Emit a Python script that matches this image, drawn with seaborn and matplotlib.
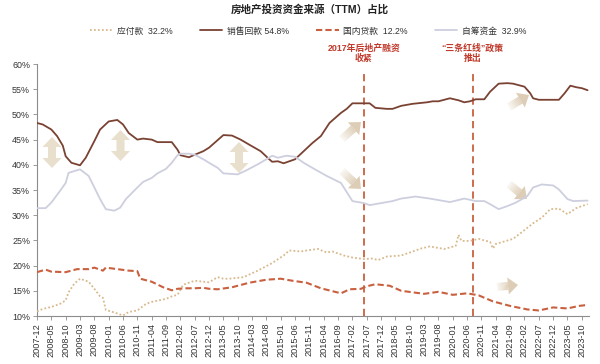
import matplotlib
matplotlib.use("Agg")
import matplotlib.pyplot as plt
from matplotlib.patches import Polygon
import numpy as np
import pandas as pd
import seaborn as sns

# ---------------- data ----------------
sales_dates = ["2007-12","2008-02","2008-05","2008-07","2008-09","2008-10","2008-12","2009-03","2009-05","2009-08",
               "2009-10","2010-01","2010-04","2010-06","2010-08","2010-11","2011-01","2011-04","2011-06","2011-09",
               "2011-11","2012-01","2012-02","2012-05","2012-07","2012-10","2012-12","2013-02","2013-05","2013-08",
               "2013-11","2014-02","2014-06","2014-09","2014-10","2014-12","2015-02","2015-06","2015-09","2015-12",
               "2016-03","2016-06","2016-10","2016-12","2017-02","2017-05","2017-08","2017-10","2018-02","2018-04",
               "2018-07","2018-11","2019-04","2019-06","2019-08","2019-12","2020-03","2020-05","2020-07","2020-09",
               "2020-12","2021-02","2021-05","2021-08","2021-10","2022-02","2022-04","2022-05","2022-07","2022-10",
               "2023-02","2023-04","2023-06","2023-08","2023-10","2023-12"]
sales_vals = [48.3,48.0,47.0,45.7,43.8,41.7,40.4,39.9,41.4,44.7,
              47.0,48.6,48.9,48.0,46.3,45.0,45.2,45.0,44.5,44.5,
              44.5,43.0,41.9,41.5,42.0,42.7,43.4,44.4,45.9,45.8,
              45.0,44.0,42.7,41.1,40.6,40.7,40.3,41.1,42.7,44.3,
              45.7,48.3,50.3,51.1,52.2,52.2,52.2,51.3,51.1,51.1,
              51.7,52.1,52.4,52.6,52.6,53.2,52.8,52.4,52.6,53.0,
              53.0,54.5,56.1,56.2,56.1,55.5,54.2,53.2,52.9,52.9,
              52.9,54.2,55.7,55.4,55.2,54.8]

self_dates = ["2007-12","2008-03","2008-05","2008-08","2008-10","2008-11","2009-03","2009-06","2009-08","2009-10",
              "2009-12","2010-03","2010-05","2010-07","2010-11","2011-01","2011-04","2011-06","2011-09","2011-11",
              "2012-01","2012-02","2012-05","2012-07","2012-10","2012-12","2013-03","2013-05","2013-10","2014-01",
              "2014-05","2014-08","2014-10","2014-12","2015-03","2015-06","2015-09","2015-12","2016-05","2016-10",
              "2016-12","2017-02","2017-06","2017-08","2018-01","2018-04","2018-07","2018-12","2019-05","2019-12",
              "2020-05","2020-09","2020-12","2021-02","2021-05","2021-08","2021-11","2022-03","2022-05","2022-08",
              "2022-12","2023-02","2023-05","2023-07","2023-12"]
self_vals = [31.4,31.4,32.5,34.8,36.4,38.4,39.1,37.8,35.5,33.2,
             31.2,30.9,31.5,33.2,35.5,36.6,37.4,38.3,39.2,40.4,
             41.9,42.2,42.2,42.0,41.1,40.4,39.4,38.3,38.1,38.9,
             40.1,41.1,41.8,41.4,41.8,41.6,40.4,39.4,37.8,36.4,
             34.6,32.8,32.4,32.0,32.5,32.8,33.3,33.7,33.3,32.6,
             33.3,32.8,32.8,32.2,31.2,31.8,32.5,33.8,35.5,36.1,
             35.9,35.1,33.2,32.8,32.9]

loan_dates = ["2007-12","2008-03","2008-05","2008-10","2009-02","2009-06","2009-08","2009-11","2009-12","2010-04",
              "2010-08","2010-11","2010-12","2011-04","2011-08","2011-11","2012-01","2012-04","2012-07","2012-10",
              "2012-12","2013-03","2013-08","2014-02","2014-08","2015-01","2015-05","2015-10","2016-03","2016-10",
              "2017-01","2017-05","2017-07","2017-10","2018-03","2018-07","2019-03","2019-08","2020-01","2020-06",
              "2020-10","2021-03","2021-09","2022-03","2022-07","2022-12","2023-05","2023-09","2023-12"]
loan_vals = [18.7,19.2,18.8,18.7,19.3,19.3,19.6,19.0,19.6,19.3,
             19.0,18.9,17.4,16.8,15.7,15.1,15.4,15.5,15.5,15.6,
             15.4,15.3,15.7,16.6,17.2,17.4,17.0,16.6,15.5,14.5,
             15.3,15.4,15.9,16.3,16.0,15.0,14.4,14.8,14.2,14.5,
             14.1,12.9,12.0,11.3,11.1,11.7,11.5,12.0,12.2]

pay_dates = ["2007-12","2008-02","2008-05","2008-08","2008-10","2008-11","2009-01","2009-03","2009-06","2009-08",
             "2009-10","2009-11","2009-12","2010-03","2010-06","2010-08","2010-11","2011-02","2011-04","2011-09",
             "2011-11","2012-01","2012-03","2012-07","2012-10","2012-12","2013-03","2013-05","2013-07","2013-12",
             "2014-05","2014-10","2015-02","2015-04","2015-08","2015-10","2016-02","2016-05","2016-07","2016-11",
             "2017-02","2017-06","2017-09","2017-11","2018-02","2018-07","2018-10","2019-02","2019-05","2019-10",
             "2020-02","2020-03","2020-04","2020-07","2020-10","2021-02","2021-03","2021-04","2021-10","2022-01",
             "2022-05","2022-08","2022-11","2023-02","2023-05","2023-08","2023-12"]
pay_vals = [10.9,11.4,11.8,12.4,13.1,14.7,16.4,17.4,16.8,15.4,
            13.9,13.6,11.2,10.7,10.1,10.8,11.1,12.4,12.8,13.4,
            13.9,14.2,16.2,17.0,16.8,16.7,17.7,17.4,17.4,17.7,
            19.0,20.5,22.0,23.0,22.8,23.0,23.3,22.6,22.8,22.0,
            21.6,21.3,21.4,21.1,21.8,22.0,22.6,23.4,23.8,23.3,
            23.9,26.1,24.9,24.9,25.3,24.7,23.4,24.3,25.3,26.6,
            28.4,29.5,31.2,31.3,30.2,31.4,32.2]

series_names = ["应付款  32.2%", "销售回款 54.8%", "国内贷款  12.2%", "自筹资金  32.9%"]
tick_labels = ["2007-12","2008-05","2008-10","2009-03","2009-08","2010-01","2010-06","2010-11","2011-04","2011-09",
               "2012-02","2012-07","2012-12","2013-05","2013-10","2014-03","2014-08","2015-01","2015-06","2015-11",
               "2016-04","2016-09","2017-02","2017-07","2017-12","2018-05","2018-10","2019-03","2019-08","2020-01",
               "2020-06","2020-11","2021-04","2021-09","2022-02","2022-07","2022-12","2023-05","2023-10"]
event_dates = ["2017-06", "2020-08"]
event_texts = ["2017年后地产融资\n收紧", "\u201c三条红线\u201d政策\n推出"]
title = "房地产投资资金来源（TTM）占比"

# ---------------- helpers ----------------
def month_index(dates):
    p = pd.PeriodIndex(dates, freq="M")
    return np.array((p.year - 2007) * 12 + p.month - 12, dtype=float)

sns.set_style("ticks")
plt.rcParams["font.family"] = ["Liberation Sans", "Noto Sans CJK SC", "DejaVu Sans"]

W, H = 600, 364
fig = plt.figure(figsize=(6, 3.64), dpi=100)
ax = fig.add_axes([37 / W, 1 - 316 / H, (589 - 37) / W, (316 - 64) / H])

colors = {"pay": "#d8b98c", "sales": "#7a4233", "loan": "#c9603f", "self": "#cdcfdf"}

# decorative arrows (pixel geometry -> figure coords)
def px(pts):
    return [(x / W, 1 - y / H) for x, y in pts]

def double_arrow(cx, y0, y1, hw=19, bw=8, hl=10, color="#e9dfcd"):
    pts = [(cx, y0), (cx + hw / 2, y0 + hl), (cx + bw / 2, y0 + hl), (cx + bw / 2, y1 - hl),
           (cx + hw / 2, y1 - hl), (cx, y1), (cx - hw / 2, y1 - hl), (cx - bw / 2, y1 - hl),
           (cx - bw / 2, y0 + hl), (cx - hw / 2, y0 + hl)]
    ax.add_patch(Polygon(px(pts), closed=True, transform=fig.transFigure, facecolor=color,
                         edgecolor="none", zorder=1, clip_on=False))

def grad_arrow(x0, y0, x1, y1, hw=17, bw=8, hl=10, color="#dccbb2", n=10):
    d = np.array([x1 - x0, y1 - y0], float)
    L = np.hypot(*d)
    u = d / L
    nrm = np.array([-u[1], u[0]])
    p0 = np.array([x0, y0], float)
    body = L - hl
    for i in range(n):
        a = p0 + u * body * i / n
        b = p0 + u * body * (i + 1) / n
        pts = [a + nrm * bw / 2, b + nrm * bw / 2, b - nrm * bw / 2, a - nrm * bw / 2]
        ax.add_patch(Polygon(px(pts), closed=True, transform=fig.transFigure, facecolor=color,
                             alpha=0.08 + 0.8 * (i + 1) / n, edgecolor="none", zorder=1, clip_on=False))
    base = p0 + u * body
    tip = np.array([x1, y1], float)
    pts = [base + nrm * hw / 2, tip, base - nrm * hw / 2]
    ax.add_patch(Polygon(px(pts), closed=True, transform=fig.transFigure, facecolor=color,
                         alpha=0.95, edgecolor="none", zorder=1, clip_on=False))

double_arrow(52, 137, 168)
double_arrow(120.5, 130, 161)
double_arrow(239, 142, 173)
grad_arrow(342, 139, 361, 122)
grad_arrow(342, 171, 361, 189)
grad_arrow(509, 107, 529, 95)
grad_arrow(509, 184, 527, 199)
grad_arrow(497, 287, 518, 285)

# ---------------- lines ----------------
frames = [
    ("pay", pay_dates, pay_vals, dict(linestyle=(0, (1, 1.2)), linewidth=1.3)),
    ("sales", sales_dates, sales_vals, dict(linestyle="-", linewidth=1.3)),
    ("loan", loan_dates, loan_vals, dict(linestyle=(0, (3, 1.5)), linewidth=1.5)),
    ("self", self_dates, self_vals, dict(linestyle="-", linewidth=1.3)),
]
handles = []
for key, dts, vals, kw in frames:
    df = pd.DataFrame({"m": month_index(dts), "v": vals})
    n_before = len(ax.lines)
    sns.lineplot(data=df, x="m", y="v", ax=ax, color=colors[key], legend=False, zorder=3, **kw)
    handles.append(ax.lines[n_before])

# event lines
for d, t in zip(event_dates, event_texts):
    m = month_index([d])[0]
    ax.axvline(m, ymin=0, ymax=(316 - 73) / 252, color="#c9603f", linestyle=(0, (4, 2.5)),
               linewidth=1.3, zorder=2)
    ax.text(m, 62.1, t, ha="center", va="center", fontsize=6.4, fontweight="bold",
            color="#c0392b", linespacing=1.25, clip_on=False)

# ---------------- axes ----------------
ax.set_xlim(0, 192.5)
ax.set_ylim(10, 60)
ax.set_yticks(np.arange(10, 61, 5))
ax.set_yticklabels([f"{v}%" for v in range(10, 61, 5)])
ax.set_xticks(month_index(tick_labels))
ax.set_xticklabels(tick_labels, rotation=90)
ax.set_xlabel("")
ax.set_ylabel("")
sns.despine(ax=ax)
for s in ("left", "bottom"):
    ax.spines[s].set_color("#8c8c8c")
    ax.spines[s].set_linewidth(0.8)
ax.tick_params(axis="y", labelsize=6.4, colors="#8c8c8c", labelcolor="#333333", length=3, width=0.6, pad=2)
ax.tick_params(axis="x", labelsize=6.6, colors="#8c8c8c", labelcolor="#333333", length=3, width=0.6, pad=2)

fig.text(310 / W, 1 - 9 / H, title, ha="center", va="center", fontsize=7.6, fontweight="bold", color="#222222")
fig.legend(handles, series_names, loc="center", bbox_to_anchor=(308 / W, 1 - 31 / H), ncol=4,
           frameon=False, fontsize=6.3, handlelength=2.6, columnspacing=3.1, handletextpad=0.5,
           labelcolor="#333333")

fig.savefig("out.png", dpi=100)
